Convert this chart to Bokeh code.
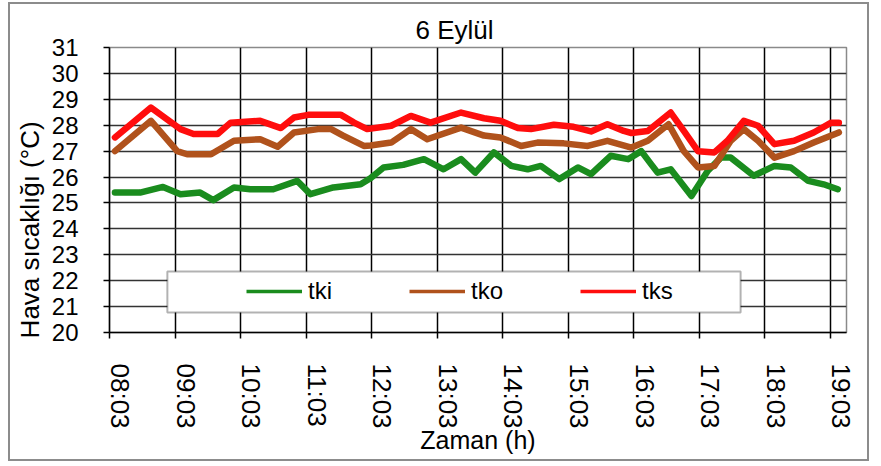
import math
from bokeh.plotting import figure
from bokeh.models import FixedTicker, Range1d, BoxAnnotation, Legend, LegendItem, Label
from bokeh.embed import file_html
from bokeh.resources import INLINE

# ---------------- data ----------------
title_text = "6 Eylül"
x_title = "Zaman (h)"
y_title = "Hava sıcaklığı (°C)"
hour_labels = ["08:03", "09:03", "10:03", "11:03", "12:03", "13:03",
               "14:03", "15:03", "16:03", "17:03", "18:03", "19:03"]
y_ticks = [20, 21, 22, 23, 24, 25, 26, 27, 28, 29, 30, 31]

tki_time = ["08:08", "08:31", "08:52", "09:08", "09:26", "09:38", "09:57", "10:12", "10:33",
            "10:55", "11:07", "11:28", "11:53", "12:02", "12:14", "12:32", "12:51", "13:09",
            "13:25", "13:38", "13:55", "14:11", "14:26", "14:38", "14:55", "15:12", "15:24",
            "15:42", "15:58", "16:10", "16:19", "16:25", "16:37", "16:56", "17:11", "17:23",
            "17:32", "17:53", "18:12", "18:27", "18:43", "18:57", "19:10"]
tki_vals = [25.40, 25.40, 25.62, 25.34, 25.40, 25.11, 25.60, 25.53, 25.53,
            25.85, 25.34, 25.60, 25.72, 25.95, 26.37, 26.47, 26.69, 26.30,
            26.69, 26.17, 26.95, 26.43, 26.30, 26.43, 25.92, 26.37, 26.11,
            26.82, 26.69, 27.00, 26.50, 26.17, 26.30, 25.27, 26.24, 26.75,
            26.75, 26.05, 26.43, 26.37, 25.85, 25.72, 25.53]

tko_time = ["08:08", "08:41", "09:05", "09:14", "09:36", "09:57", "10:21", "10:37", "10:52",
            "11:14", "11:26", "11:37", "11:56", "12:02", "12:21", "12:39", "12:54", "13:25",
            "13:46", "14:01", "14:20", "14:35", "14:59", "15:21", "15:39", "16:01", "16:16",
            "16:35", "16:49", "17:02", "17:17", "17:32", "17:44", "17:57", "18:12", "18:30",
            "18:48", "19:11"]
tko_vals = [27.00, 28.17, 27.00, 26.88, 26.88, 27.40, 27.46, 27.17, 27.72,
            27.85, 27.85, 27.60, 27.20, 27.22, 27.33, 27.85, 27.46, 27.91,
            27.60, 27.53, 27.20, 27.33, 27.30, 27.20, 27.40, 27.14, 27.40,
            28.04, 27.00, 26.37, 26.43, 27.40, 27.85, 27.40, 26.75, 27.00,
            27.33, 27.72]

tks_time = ["08:08", "08:41", "09:08", "09:20", "09:42", "09:54", "10:21", "10:40", "10:52",
            "11:05", "11:35", "11:47", "11:59", "12:21", "12:39", "12:57", "13:25", "13:46",
            "14:01", "14:17", "14:29", "14:50", "15:08", "15:24", "15:39", "15:54", "16:01",
            "16:16", "16:37", "16:49", "17:02", "17:17", "17:29", "17:44", "17:57", "18:12",
            "18:30", "18:48", "19:04", "19:11"]
tks_vals = [27.53, 28.68, 27.85, 27.66, 27.66, 28.10, 28.17, 27.89, 28.30,
            28.40, 28.40, 28.10, 27.85, 27.98, 28.36, 28.10, 28.49, 28.27,
            28.17, 27.89, 27.85, 28.02, 27.94, 27.76, 28.04, 27.78, 27.70,
            27.78, 28.49, 27.78, 27.00, 26.95, 27.40, 28.17, 27.98, 27.27,
            27.40, 27.72, 28.10, 28.10]

series_names = ["tki", "tko", "tks"]
series_colors = ["#1a8c1e", "#b0521c", "#ff0d0d"]

# ---------------- helpers ----------------
def to_min(s):
    h, m = s.split(":")
    return int(h) * 60 + int(m)

FONT = "Liberation Sans"
X_START = "08:03"
X_END = "19:18"
LABEL_SHIFT = 10          # minutes: tick labels sit one step right of the tick marks
LEGEND_SPAN = ("08:56", "17:41", 20.77, 22.35)
Y_TITLE_CENTER = 23.96

grid_pos = [to_min(s) for s in hour_labels]
label_pos = [g + LABEL_SHIFT for g in grid_pos]

p = figure(width=861, height=459, output_backend="svg", toolbar_location=None,
           x_range=Range1d(to_min(X_START), to_min(X_END)),
           y_range=Range1d(y_ticks[0], y_ticks[-1]),
           min_border_left=99, min_border_right=25, min_border_top=43, min_border_bottom=131)
p.styles = {"border": "2px solid #8c8c8c", "margin-left": "8px", "margin-top": "2px"}
p.background_fill_color = "white"
p.border_fill_color = "white"
p.outline_line_color = "#8a8a8a"
p.outline_line_width = 1.5

# title
p.title.text = title_text
p.title.text_font = FONT
p.title.text_font_size = "26px"
p.title.text_font_style = "normal"
p.title.text_color = "black"
p.title.align = "left"
p.title.offset = 306
p.title.standoff = 6

# grids
p.xgrid.ticker = FixedTicker(ticks=grid_pos)
p.xgrid.grid_line_color = "black"
p.xgrid.grid_line_width = 1.5
p.ygrid.ticker = FixedTicker(ticks=y_ticks)
p.ygrid.grid_line_color = "#333333"
p.ygrid.grid_line_width = 1.5

# x axis
xa = p.xaxis[0]
xa.ticker = FixedTicker(ticks=label_pos, minor_ticks=grid_pos)
xa.major_label_overrides = {lp: lab for lp, lab in zip(label_pos, hour_labels)}
xa.major_label_orientation = "vertical"
xa.major_tick_out = 0
xa.major_tick_in = 0
xa.minor_tick_out = 6
xa.minor_tick_in = 0
xa.minor_tick_line_color = "black"
xa.minor_tick_line_width = 1.5
xa.axis_line_color = "black"
xa.axis_line_width = 1.5
xa.major_label_text_font = FONT
xa.major_label_text_font_size = "26px"
xa.major_label_text_color = "black"
xa.major_label_standoff = 25
xa.axis_label = x_title
xa.axis_label_text_font = FONT
xa.axis_label_text_font_size = "25px"
xa.axis_label_text_font_style = "normal"
xa.axis_label_text_color = "black"
xa.axis_label_standoff = -6

# y axis
ya = p.yaxis[0]
ya.ticker = FixedTicker(ticks=y_ticks)
ya.major_tick_out = 6
ya.major_tick_in = 0
ya.minor_tick_out = 0
ya.minor_tick_in = 0
ya.major_tick_line_color = "black"
ya.major_tick_line_width = 1.5
ya.axis_line_color = "black"
ya.axis_line_width = 1.5
ya.major_label_text_font = FONT
ya.major_label_text_font_size = "24px"
ya.major_label_text_color = "black"
ya.major_label_standoff = 25

# y title, set in the left margin beside the tick labels
ylab = Label(x=11, y=Y_TITLE_CENTER, x_units="screen", y_units="data", text=y_title,
             angle=math.pi / 2, text_align="center", text_baseline="middle",
             text_font=FONT, text_font_size="26px", text_color="black")
p.add_layout(ylab, "left")

# series
all_series = [(tki_time, tki_vals), (tko_time, tko_vals), (tks_time, tks_vals)]
legend_items = []
for (times, vals), name, col in zip(all_series, series_names, series_colors):
    xs = [to_min(t) for t in times]
    proxy = p.line(xs, vals, line_color=col, line_width=3.5)   # thin twin, used for the legend
    p.line(xs, vals, line_color=col, line_width=6.5, line_join="round", line_cap="round")
    legend_items.append(LegendItem(label=name, renderers=[proxy]))

# legend box
box = BoxAnnotation(left=to_min(LEGEND_SPAN[0]), right=to_min(LEGEND_SPAN[1]),
                    bottom=LEGEND_SPAN[2], top=LEGEND_SPAN[3],
                    fill_color="white", fill_alpha=1.0,
                    line_color="black", line_width=2)
p.add_layout(box)

legend = Legend(items=legend_items, orientation="horizontal", location=(137, 27),
                glyph_width=56, glyph_height=28, label_height=28, label_standoff=6,
                spacing=77, padding=0, margin=0,
                label_text_font=FONT, label_text_font_size="24px", label_text_color="black",
                background_fill_alpha=0, border_line_alpha=0)
p.add_layout(legend, "center")

open("out.html", "w").write(file_html(p, INLINE))
